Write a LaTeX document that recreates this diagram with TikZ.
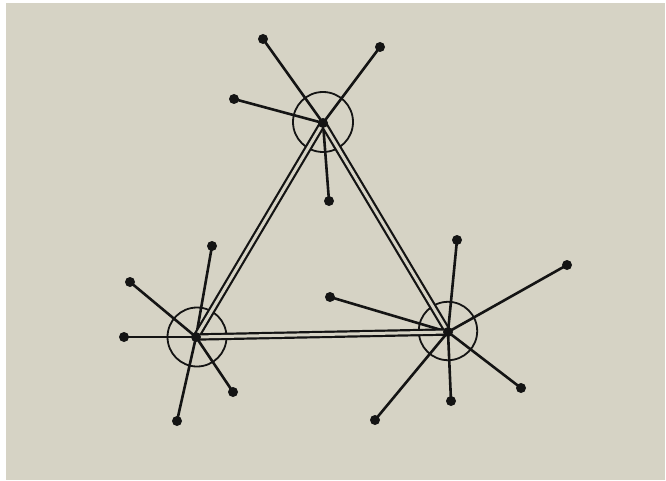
\documentclass[tikz,border=0pt]{standalone}
\begin{document}
\begin{tikzpicture}[x=1pt,y=-1pt,
  spoke/.style={line width=2.6pt, draw=ink},
  ring/.style={line width=1.8pt, draw=ink},
  link/.style={line width=2.2pt, draw=ink, double=paper, double distance=3pt, line join=round},
  leaf/.style={circle, fill=ink, inner sep=0pt, minimum size=10pt},
  hub/.style={circle, fill=ink, inner sep=0pt, minimum size=10pt}]
\definecolor{paper}{RGB}{214,211,197}
\definecolor{ink}{RGB}{20,20,20}
\useasboundingbox (0,0) rectangle (666,481);
\fill[white] (0,0) rectangle (666,481);
\fill[paper] (6,3) rectangle (665,480);
% hub positions
\coordinate (T) at (323,123);
\coordinate (L) at (196,337);
\coordinate (R) at (448,332);
% leaf positions
\coordinate (t1) at (263,39);
\coordinate (t2) at (380,47);
\coordinate (t3) at (234,99);
\coordinate (t4) at (329,201);
\coordinate (l1) at (212,246);
\coordinate (l2) at (130,282);
\coordinate (l3) at (124,337);
\coordinate (l4) at (233,392);
\coordinate (l5) at (177,421);
\coordinate (r1) at (457,240);
\coordinate (r2) at (567,265);
\coordinate (r3) at (330,297);
\coordinate (r4) at (521,388);
\coordinate (r5) at (451,401);
\coordinate (r6) at (375,420);
% rings
\draw[ring] (323,122) circle (30);
\draw[ring] (197,337) circle (29.5);
\draw[ring] (448,331) circle (29.2);
% spokes
\foreach \a in {t1,t2,t3,t4} \draw[spoke] (T) -- (\a);
\foreach \a in {l1,l2,l3,l4,l5} \draw[spoke] (L) -- (\a);
\foreach \a in {r1,r2,r3,r4,r5,r6} \draw[spoke] (R) -- (\a);
% double-line triangle
\draw[link] (T) -- (L) -- (R) -- cycle;
% dots
\foreach \a in {t1,t2,t3,t4,l1,l2,l3,l4,l5,r1,r2,r3,r4,r5,r6}
  \node[leaf] (n\a) at (\a) {};
\node[hub] (hT) at (T) {};
\node[hub] (hL) at (L) {};
\node[hub] (hR) at (R) {};
\end{tikzpicture}
\end{document}
